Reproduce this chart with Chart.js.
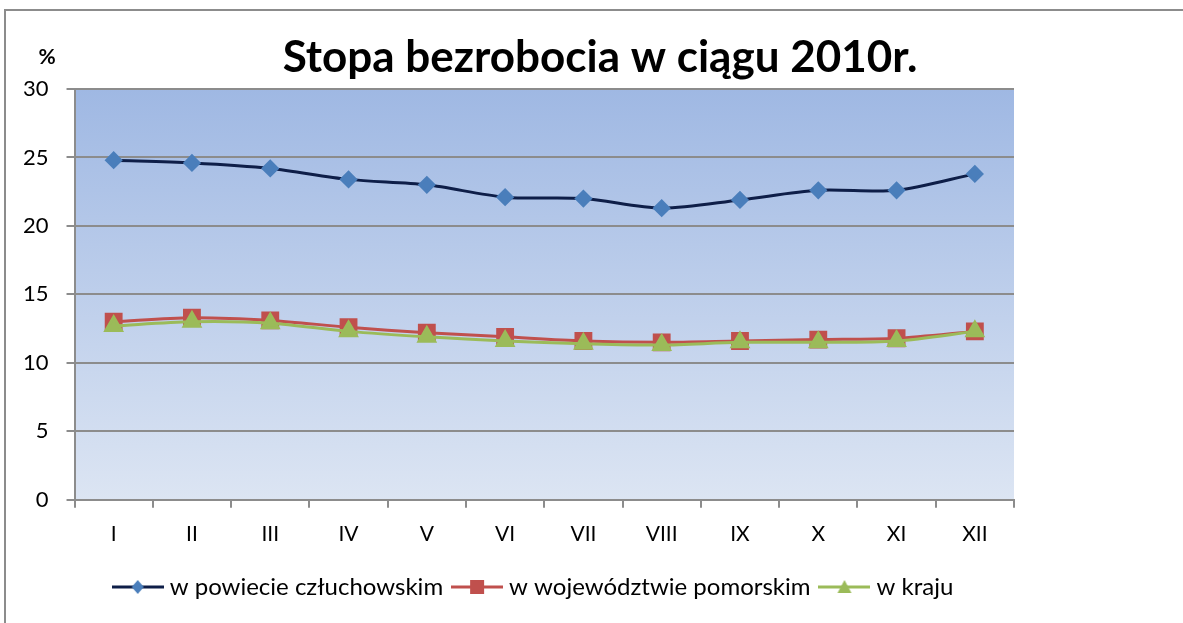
<!DOCTYPE html>
<html>
<head>
<meta charset="utf-8">
<script src="https://cdn.jsdelivr.net/npm/chart.js@4/dist/chart.umd.min.js"></script>
<style>
    html, body { margin: 0; padding: 0; background: #fff; overflow: hidden; }
    .frame { position: absolute; left: 4px; top: 9px; width: 1200px; height: 700px; border-left: 2px solid #8c8c8c; border-top: 2px solid #8c8c8c; }
    .wrap { position: absolute; left: 0; top: 0; width: 1183px; height: 623px; }
</style>
</head>
<body>
<div class="frame"></div>
<div class="wrap"><canvas id="unemploymentChart" width="1183" height="623"></canvas></div>
<script>
// months as roman numerals
const months = ['I', 'II', 'III', 'IV', 'V', 'VI', 'VII', 'VIII', 'IX', 'X', 'XI', 'XII'];
const seriesNames = ['w powiecie człuchowskim', 'w województwie pomorskim', 'w kraju'];
const powiat = [24.8, 24.6, 24.2, 23.4, 23.0, 22.1, 22.0, 21.3, 21.9, 22.6, 22.6, 23.8];
const wojewodztwo = [13.0, 13.3, 13.1, 12.6, 12.2, 11.9, 11.6, 11.5, 11.6, 11.7, 11.8, 12.3];
const kraj = [12.7, 13.0, 12.9, 12.3, 11.9, 11.6, 11.4, 11.3, 11.5, 11.5, 11.6, 12.3];
const yTicks = [0, 5, 10, 15, 20, 25, 30];

const FONT = 'Lato, "DejaVu Sans", sans-serif';

// small legend icons: line + marker
function legendIcon(lineColor, markerColor, shape) {
    const c = document.createElement('canvas');
    c.width = 52;
    c.height = 20;
    const g = c.getContext('2d');
    g.strokeStyle = lineColor;
    g.lineWidth = 3;
    g.beginPath();
    g.moveTo(0, 10);
    g.lineTo(52, 10);
    g.stroke();
    g.fillStyle = markerColor;
    g.beginPath();
    if (shape === 'diamond') {
        g.moveTo(26, 3); g.lineTo(32, 10); g.lineTo(26, 17); g.lineTo(20, 10);
    } else if (shape === 'square') {
        g.rect(19, 3, 14, 14);
    } else {
        g.moveTo(26, 3); g.lineTo(33, 16); g.lineTo(19, 16);
    }
    g.closePath();
    g.fill();
    return c;
}

const bgPlugin = {
    id: 'plotBg',
    beforeDraw(chart) {
        const { ctx, chartArea: a } = chart;
        const grad = ctx.createLinearGradient(0, a.top, 0, a.bottom);
        grad.addColorStop(0, '#9fb8e3');
        grad.addColorStop(1, '#dce5f3');
        ctx.save();
        ctx.fillStyle = grad;
        ctx.fillRect(a.left, a.top, a.right - a.left, a.bottom - a.top);
        ctx.restore();
    }
};

// nudge legend to the right, like the original
const legendShift = {
    id: 'legendShift',
    afterLayout(chart) {
        chart.legend.left += 26;
        chart.legend.right += 26;
    }
};

const textPlugin = {
    id: 'texts',
    afterDraw(chart) {
        const ctx = chart.ctx;
        ctx.save();
        ctx.fillStyle = '#000';
        ctx.textAlign = 'center';
        ctx.textBaseline = 'alphabetic';
        ctx.font = 'bold 44px ' + FONT;
        ctx.fillText('Stopa bezrobocia w ciągu 2010r.', 600, 72);
        ctx.font = 'bold 21px ' + FONT;
        ctx.fillText('%', 47, 64);
        ctx.restore();
    }
};

document.addEventListener('DOMContentLoaded', () => {
    const ctx = document.getElementById('unemploymentChart').getContext('2d');
    new Chart(ctx, {
        type: 'line',
        data: {
            labels: months,
            datasets: [{
                label: seriesNames[0],
                data: powiat,
                order: 3,
                borderColor: '#0e1e48',
                borderWidth: 3,
                pointStyle: 'rectRot',
                pointRadius: 7,
                pointBackgroundColor: '#4a7ebb',
                pointBorderColor: '#4a7ebb',
                tension: 0.3
            }, {
                label: seriesNames[1],
                data: wojewodztwo,
                order: 2,
                borderColor: '#c0504d',
                borderWidth: 3,
                pointStyle: 'rect',
                pointRadius: 10.5,
                pointBackgroundColor: '#c0504d',
                pointBorderColor: '#c0504d',
                tension: 0.3
            }, {
                label: seriesNames[2],
                data: kraj,
                order: 1,
                borderColor: '#9bbb59',
                borderWidth: 3,
                pointStyle: 'triangle',
                pointRadius: 9,
                pointBackgroundColor: '#9bbb59',
                pointBorderColor: '#9bbb59',
                tension: 0.3
            }]
        },
        options: {
            responsive: false,
            animation: false,
            layout: { padding: { top: 89, right: 169, left: 5, bottom: 14 } },
            scales: {
                x: {
                    offset: true,
                    grid: { offset: true, drawOnChartArea: false, tickLength: 8, color: '#8c8c8c', lineWidth: 2 },
                    border: { color: '#8c8c8c', width: 2 },
                    ticks: { color: '#000', font: { family: FONT, size: 21 }, padding: 14 }
                },
                y: {
                    min: 0,
                    max: 30,
                    afterBuildTicks(scale) { scale.ticks = yTicks.map(v => ({ value: v })); },
                    grid: { color: '#8c8c8c', lineWidth: 2, tickLength: 8 },
                    border: { color: '#8c8c8c', width: 2 },
                    ticks: { color: '#000', font: { family: FONT, size: 22 }, padding: 18 }
                }
            },
            plugins: {
                title: { display: false },
                tooltip: { enabled: false },
                legend: {
                    position: 'bottom',
                    labels: {
                        usePointStyle: true,
                        pointStyleWidth: 40,
                        color: '#000',
                        font: { family: FONT, size: 24 },
                        padding: 14,
                        generateLabels(chart) {
                            const icons = [
                                legendIcon('#0e1e48', '#4a7ebb', 'diamond'),
                                legendIcon('#c0504d', '#c0504d', 'square'),
                                legendIcon('#9bbb59', '#9bbb59', 'triangle')
                            ];
                            return chart.data.datasets.map((ds, i) => ({
                                text: ds.label,
                                pointStyle: icons[i],
                                fillStyle: 'transparent',
                                strokeStyle: 'transparent',
                                lineWidth: 0,
                                fontColor: '#000',
                                datasetIndex: i
                            }));
                        }
                    }
                }
            }
        },
        plugins: [bgPlugin, legendShift, textPlugin]
    });
});
</script>
</body>
</html>
